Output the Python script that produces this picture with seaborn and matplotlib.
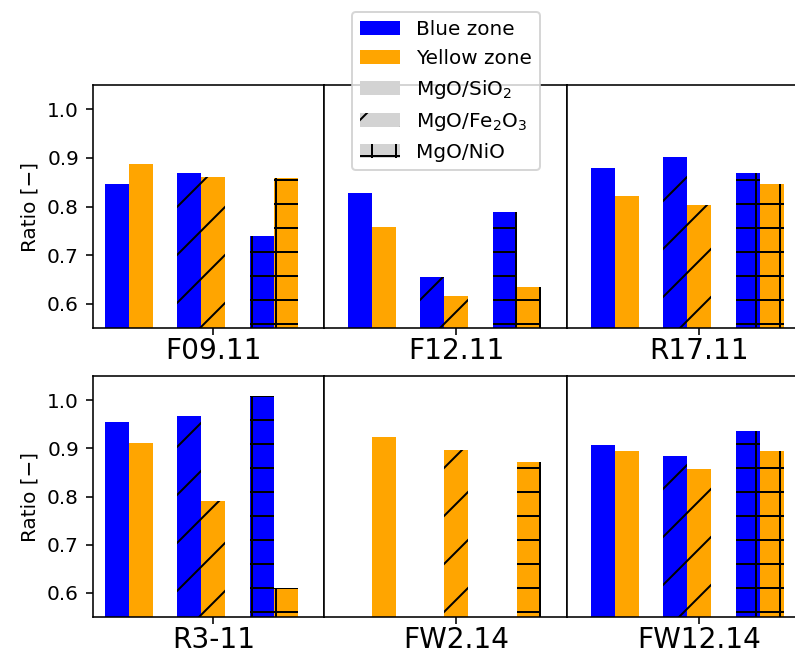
import numpy as np
import pandas as pd
import matplotlib
matplotlib.use("Agg")
import matplotlib.pyplot as plt
from matplotlib.patches import Patch
import seaborn as sns

# values
samples = ['F09.11', 'F12.11', 'R17.11', 'R3-11', 'FW2.14', 'FW12.14']
ratios = ['MgO/SiO$_2$', 'MgO/Fe$_2$O$_3$', 'MgO/NiO']
zones = ['Blue zone', 'Yellow zone']
hatches = ['', '/', '+']

blue_zone = [
    [0.847, 0.869, 0.739],
    [0.828, 0.655, 0.789],
    [0.879, 0.902, 0.869],
    [0.955, 0.966, 1.008],
    [np.nan, np.nan, np.nan],
    [0.906, 0.885, 0.936],
]
yellow_zone = [
    [0.887, 0.861, 0.858],
    [0.757, 0.616, 0.634],
    [0.822, 0.804, 0.846],
    [0.912, 0.790, 0.610],
    [0.924, 0.897, 0.871],
    [0.895, 0.858, 0.895],
]

rows = []
for s, b, y in zip(samples, blue_zone, yellow_zone):
    for r, bv, yv in zip(ratios, b, y):
        rows.append((s, r, 'Blue zone', bv))
        rows.append((s, r, 'Yellow zone', yv))
df = pd.DataFrame(rows, columns=['sample', 'ratio', 'zone', 'value']).dropna()

palette = {'Blue zone': 'blue', 'Yellow zone': 'orange'}

W, H, DPI = 795, 654, 144
fig = plt.figure(figsize=(W / DPI, H / DPI), dpi=DPI)

# axes positions in pixels (left, right) per column and (top, bottom) per row
cols = [(93, 324), (324, 567), (567, 810)]
rows_px = [(85, 328), (376, 617)]
xlims = [(-0.496, 2.69), (-0.66, 2.69), (-0.66, 2.69)]

bar_w = 0.662
for k, s in enumerate(samples):
    r, c = divmod(k, 3)
    l, rr = cols[c]
    t, b = rows_px[r]
    ax = fig.add_axes([l / W, 1 - b / H, (rr - l) / W, (b - t) / H])
    sub = df[df['sample'] == s]
    sns.barplot(data=sub, x='ratio', y='value', hue='zone', order=ratios,
                hue_order=zones, palette=palette, width=bar_w, saturation=1,
                dodge=True, errorbar=None, legend=False, ax=ax)
    for p in ax.patches:
        i = int(round(p.get_x() + p.get_width() / 2))
        p.set_hatch(hatches[i])
    ax.set_xlim(*xlims[c])
    ax.set_ylim(0.55, 1.05)
    ax.set_yticks([0.6, 0.7, 0.8, 0.9, 1.0])
    ax.set_xticks([1 + bar_w / 4])
    ax.set_xticklabels([s], fontsize=14)
    ax.tick_params(axis='x', pad=1)
    ax.set_xlabel('')
    if c == 0:
        ax.set_ylabel('Ratio [\u2212]')
    else:
        ax.set_ylabel('')
        ax.tick_params(left=False, labelleft=False)

handles = [
    Patch(facecolor='blue', label='Blue zone'),
    Patch(facecolor='orange', label='Yellow zone'),
    Patch(facecolor='lightgray', label=ratios[0]),
    Patch(facecolor='lightgray', hatch='/', label=ratios[1]),
    Patch(facecolor='lightgray', hatch='+', label=ratios[2]),
]
fig.legend(handles=handles, loc='upper center', borderaxespad=0,
           bbox_to_anchor=(446 / W, 1 - 12 / H))

fig.savefig('out.png', dpi=DPI)
